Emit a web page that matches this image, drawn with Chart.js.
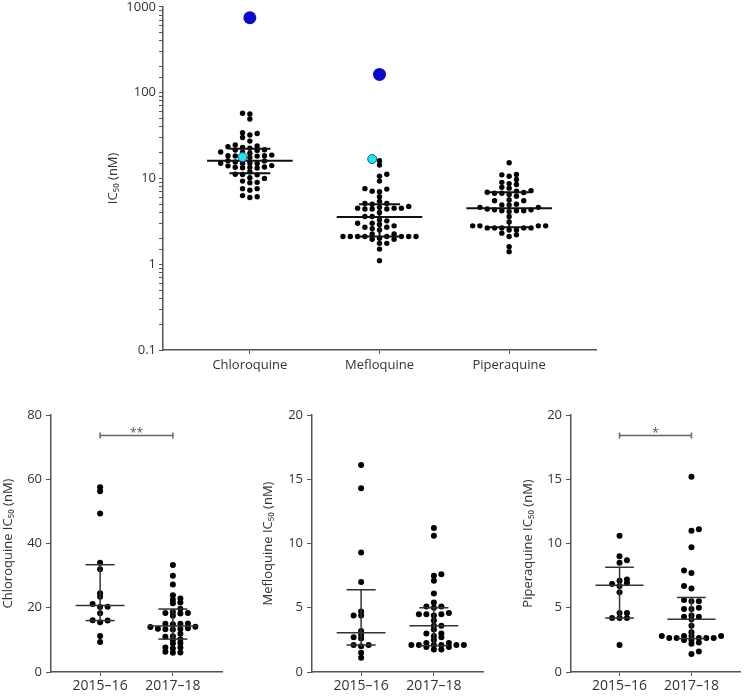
<!DOCTYPE html>
<html>
<head>
<meta charset="utf-8">
<script src="https://cdn.jsdelivr.net/npm/chart.js@4.4.0/dist/chart.umd.min.js"></script>
<style>
body { margin: 0; background: #fff; width: 744px; height: 697px; position: relative; overflow: hidden; }
.box { position: absolute; }
</style>
</head>
<body>
<div class="box" style="left:0;top:-4px"><canvas id="top" width="744" height="384"></canvas></div>
<div class="box" style="left:0;top:400px"><canvas id="cq" width="248" height="297"></canvas></div>
<div class="box" style="left:260px;top:400px"><canvas id="mq" width="248" height="297"></canvas></div>
<div class="box" style="left:520px;top:400px"><canvas id="pq" width="224" height="297"></canvas></div>
<script>
// values (nM)
const drugs = ['Chloroquine', 'Mefloquine', 'Piperaquine'];
const periods = ['2015–16', '2017–18'];

const cq1516 = [57.5, 56.3, 49.3, 34.0, 32.0, 24.5, 23.4, 21.2, 20.3, 20.2, 18.3, 16.1, 16.0, 15.5, 11.2, 9.3];
const cq1718 = [33.3, 30.0, 27.2, 23.9, 22.9, 22.5, 21.6, 21.4, 19.7, 18.7, 18.4, 18.4, 18.2, 17.5, 15.1, 15.0, 15.0, 14.9,
                14.1, 14.0, 13.6, 13.5, 13.4, 13.3, 13.2, 11.9, 11.1, 11.0, 10.2, 10.0, 9.0, 8.9, 7.6, 7.6, 7.3, 6.3, 6.1, 6.0];
const mq1516 = [16.1, 14.3, 9.3, 7.0, 4.7, 4.4, 4.4, 3.2, 2.9, 2.7, 2.6, 2.1, 2.1, 2.0, 1.5, 1.1];
const mq1718 = [11.2, 10.6, 7.6, 7.5, 7.1, 6.1, 5.4, 5.1, 5.1, 5.0, 4.6, 4.5, 4.5, 4.5, 4.4, 4.0, 3.6, 3.6, 3.3,
                3.0, 3.0, 2.8, 2.7, 2.5, 2.25, 2.25, 2.1, 2.1, 2.1, 2.1, 2.1, 2.1, 1.95, 1.95, 1.75, 1.75];
const pq1516 = [10.6, 9.0, 8.7, 8.5, 7.2, 7.1, 6.9, 6.85, 6.7, 6.2, 4.6, 4.6, 4.2, 4.2, 4.2, 2.1];
const pq1718 = [15.2, 11.1, 11.0, 9.7, 7.9, 7.7, 6.7, 6.5, 5.6, 5.5, 5.5, 5.0, 4.9, 4.9, 4.4, 4.3, 4.3, 4.1,
                3.6, 3.1, 2.8, 2.8, 2.8, 2.8, 2.65, 2.65, 2.65, 2.65, 2.65, 2.5, 2.5, 2.3, 2.2, 1.6, 1.4];

// reference strains in the top panel
const refBlue = [745, 163, null];
const refCyan = [17.7, 16.8, null];

// median and interquartile range bars
const topMedian = [16.1, 3.55, 4.5];
const topQ1 = [11.5, 2.1, 2.7];
const topQ3 = [22.1, 5.0, 6.9];

const cqMedian = [20.7, 14.3], cqQ1 = [16.0, 10.25], cqQ3 = [33.4, 19.6];
const mqMedian = [3.05, 3.6], mqQ1 = [2.1, 2.05], mqQ3 = [6.4, 5.0];
const pqMedian = [6.75, 4.1], pqQ1 = [4.2, 2.6], pqQ3 = [8.15, 5.8];

// significance between periods
const cqSig = '**', cqSigY = 73.6;
const pqSig = '*', pqSigY = 18.4;

const FONT = '"Open Sans", "DejaVu Sans", sans-serif';
const TEXT = '#333';
const AXIS = '#555';

Chart.defaults.font.family = FONT;
Chart.defaults.color = TEXT;
Chart.defaults.animation = false;
Chart.defaults.events = [];
Chart.defaults.plugins.legend.display = false;
Chart.defaults.plugins.tooltip.enabled = false;

// dot plot layout: points closer than rowH (px) vertically sit side by side, colW apart
function swarm(chart, values, center, colW, rowH) {
    const xs = chart.scales.x, ys = chart.scales.y;
    const unit = xs.getPixelForValue(1) - xs.getPixelForValue(0);
    const items = values.map((v, i) => ({ v: v, i: i, py: ys.getPixelForValue(v) }))
        .sort((a, b) => b.py - a.py);
    const placed = [];
    const out = [];
    let flip = 1;
    for (const it of items) {
        const near = placed.filter(p => Math.abs(p.py - it.py) < rowH);
        const cands = [0];
        near.forEach(p => cands.push(p.px + colW, p.px - colW));
        cands.sort((a, b) => Math.abs(a) - Math.abs(b) || flip * (a - b));
        const px = cands.find(c => near.every(p => Math.abs(p.px - c) >= colW - 0.01));
        flip = -flip;
        placed.push({ px: px, py: it.py });
        out[it.i] = { x: center + px / unit, y: it.v };
    }
    return out;
}

function seg(x1, y1, x2, y2, color, w) {
    return {
        data: [{ x: x1, y: y1 }, { x: x2, y: y2 }],
        showLine: true, borderColor: color, borderWidth: w,
        pointRadius: 0, pointHoverRadius: 0
    };
}

function barSet(c, med, q1, q3, medHalf, iqrHalf, color, w) {
    return [
        seg(c - medHalf, med, c + medHalf, med, color, w),
        seg(c - iqrHalf, q1, c + iqrHalf, q1, color, w),
        seg(c - iqrHalf, q3, c + iqrHalf, q3, color, w),
        seg(c, q1, c, q3, color, w)
    ];
}

// bracket with stars above the two groups
const sigPlugin = {
    id: 'sig',
    afterDatasetsDraw(chart, args, opts) {
        if (!opts.text) return;
        const ctx = chart.ctx, x = chart.scales.x, y = chart.scales.y;
        const x1 = x.getPixelForValue(0), x2 = x.getPixelForValue(1), py = y.getPixelForValue(opts.y);
        ctx.save();
        ctx.strokeStyle = '#666';
        ctx.lineWidth = 1.5;
        ctx.beginPath();
        ctx.moveTo(x1, py); ctx.lineTo(x2, py);
        ctx.moveTo(x1, py - 3); ctx.lineTo(x1, py + 3);
        ctx.moveTo(x2, py - 3); ctx.lineTo(x2, py + 3);
        ctx.stroke();
        ctx.fillStyle = '#555';
        ctx.font = '12px ' + FONT;
        ctx.textAlign = 'center';
        ctx.textBaseline = 'alphabetic';
        ctx.fillText(opts.text, (x1 + x2) / 2, py + 1.5);
        ctx.restore();
    }
};

// ---- top panel: all isolates, log scale ----
const topChart = new Chart(document.getElementById('top'), {
    type: 'scatter',
    data: { datasets: [] },
    options: {
        responsive: false,
        layout: { padding: { left: 105, top: 9, right: 148, bottom: 0 } },
        scales: {
            x: {
                type: 'linear', min: -0.67, max: 2.67,
                afterBuildTicks: s => { s.ticks = drugs.map((d, i) => ({ value: i })); },
                afterFit: s => { s.height = 30; },
                border: { color: AXIS, width: 1.5 },
                grid: { drawOnChartArea: false, color: AXIS, tickLength: 4 },
                ticks: { callback: v => drugs[v], font: { size: 13 }, padding: 3, maxRotation: 0 }
            },
            y: {
                type: 'logarithmic', min: 0.1, max: 1000,
                afterFit: s => { s.width = 58; },
                border: { color: AXIS, width: 1.5 },
                grid: { drawOnChartArea: false, color: AXIS, tickLength: 4 },
                ticks: {
                    autoSkip: false, font: { size: 13 }, padding: 3,
                    callback: v => {
                        const e = Math.log10(v);
                        return Math.abs(e - Math.round(e)) < 1e-6 ? String(Math.pow(10, Math.round(e)).toPrecision(1) * 1) : '';
                    }
                },
                title: { display: true, text: 'IC₅₀ (nM)', font: { size: 13 }, padding: { top: 0, bottom: 0 } }
            }
        }
    }
});

const topGroups = [cq1516.concat(cq1718), mq1516.concat(mq1718), pq1516.concat(pq1718)];
const topDots = [], topBlue = [], topCyan = [];
topGroups.forEach((vals, c) => {
    const all = refCyan[c] != null ? vals.concat([refCyan[c]]) : vals;
    const pts = swarm(topChart, all, c, 7.3, 4.4);
    topDots.push(...pts.slice(0, vals.length));
    if (refCyan[c] != null) topCyan.push(pts[vals.length]);
    if (refBlue[c] != null) topBlue.push({ x: c, y: refBlue[c] });
});
const topLines = [];
drugs.forEach((d, c) => topLines.push(...barSet(c, topMedian[c], topQ1[c], topQ3[c], 0.33, 0.158, '#111', 2)));
topChart.data.datasets = [
    { data: topBlue, pointRadius: 6.5, backgroundColor: '#0c0cc8', borderColor: '#0c0cc8', borderWidth: 0 },
    { data: topCyan, pointRadius: 4.5, backgroundColor: '#1ee6f0', borderColor: '#1a5a8a', borderWidth: 1 },
    ...topLines,
    { data: topDots, pointRadius: 2.7, backgroundColor: '#000', borderWidth: 0 }
];
topChart.update();

// ---- bottom panels: by period, linear scale ----
function panel(id, drug, groups, med, q1, q3, yMax, step, yWidth, padRight, sig, sigY) {
    const chart = new Chart(document.getElementById(id), {
        type: 'scatter',
        data: { datasets: [] },
        plugins: [sigPlugin],
        options: {
            responsive: false,
            layout: { padding: { left: 0, top: 15, right: padRight, bottom: 0 } },
            plugins: { sig: { text: sig, y: sigY } },
            scales: {
                x: {
                    type: 'linear', min: -0.675, max: 1.675,
                    afterBuildTicks: s => { s.ticks = periods.map((p, i) => ({ value: i })); },
                    afterFit: s => { s.height = 25; },
                    border: { color: AXIS, width: 1.5 },
                    grid: { drawOnChartArea: false, color: AXIS, tickLength: 4 },
                    ticks: { callback: v => periods[v], font: { size: 14 }, padding: 2, maxRotation: 0 }
                },
                y: {
                    min: 0, max: yMax,
                    afterFit: s => { s.width = yWidth; },
                    border: { color: AXIS, width: 1.5 },
                    grid: { drawOnChartArea: false, color: AXIS, tickLength: 5 },
                    ticks: { stepSize: step, font: { size: 13 }, padding: 4 },
                    title: { display: true, text: drug + ' IC₅₀ (nM)', font: { size: 13 }, padding: { top: 0, bottom: 0 } }
                }
            }
        }
    });
    const dots = [];
    groups.forEach((vals, c) => dots.push(...swarm(chart, vals, c, 7.5, 3.4)));
    const lines = [];
    groups.forEach((vals, c) => lines.push(...barSet(c, med[c], q1[c], q3[c], 0.335, 0.2, '#333', 1.5)));
    chart.data.datasets = [...lines, { data: dots, pointRadius: 3, backgroundColor: '#000', borderWidth: 0 }];
    chart.update();
}

panel('cq', 'Chloroquine', [cq1516, cq1718], cqMedian, cqQ1, cqQ3, 80, 20, 51, 26, cqSig, cqSigY);
panel('mq', 'Mefloquine', [mq1516, mq1718], mqMedian, mqQ1, mqQ3, 20, 5, 52, 25, null, 0);
panel('pq', 'Piperaquine', [pq1516, pq1718], pqMedian, pqQ1, pqQ3, 20, 5, 51, 2, pqSig, pqSigY);
</script>
</body>
</html>
